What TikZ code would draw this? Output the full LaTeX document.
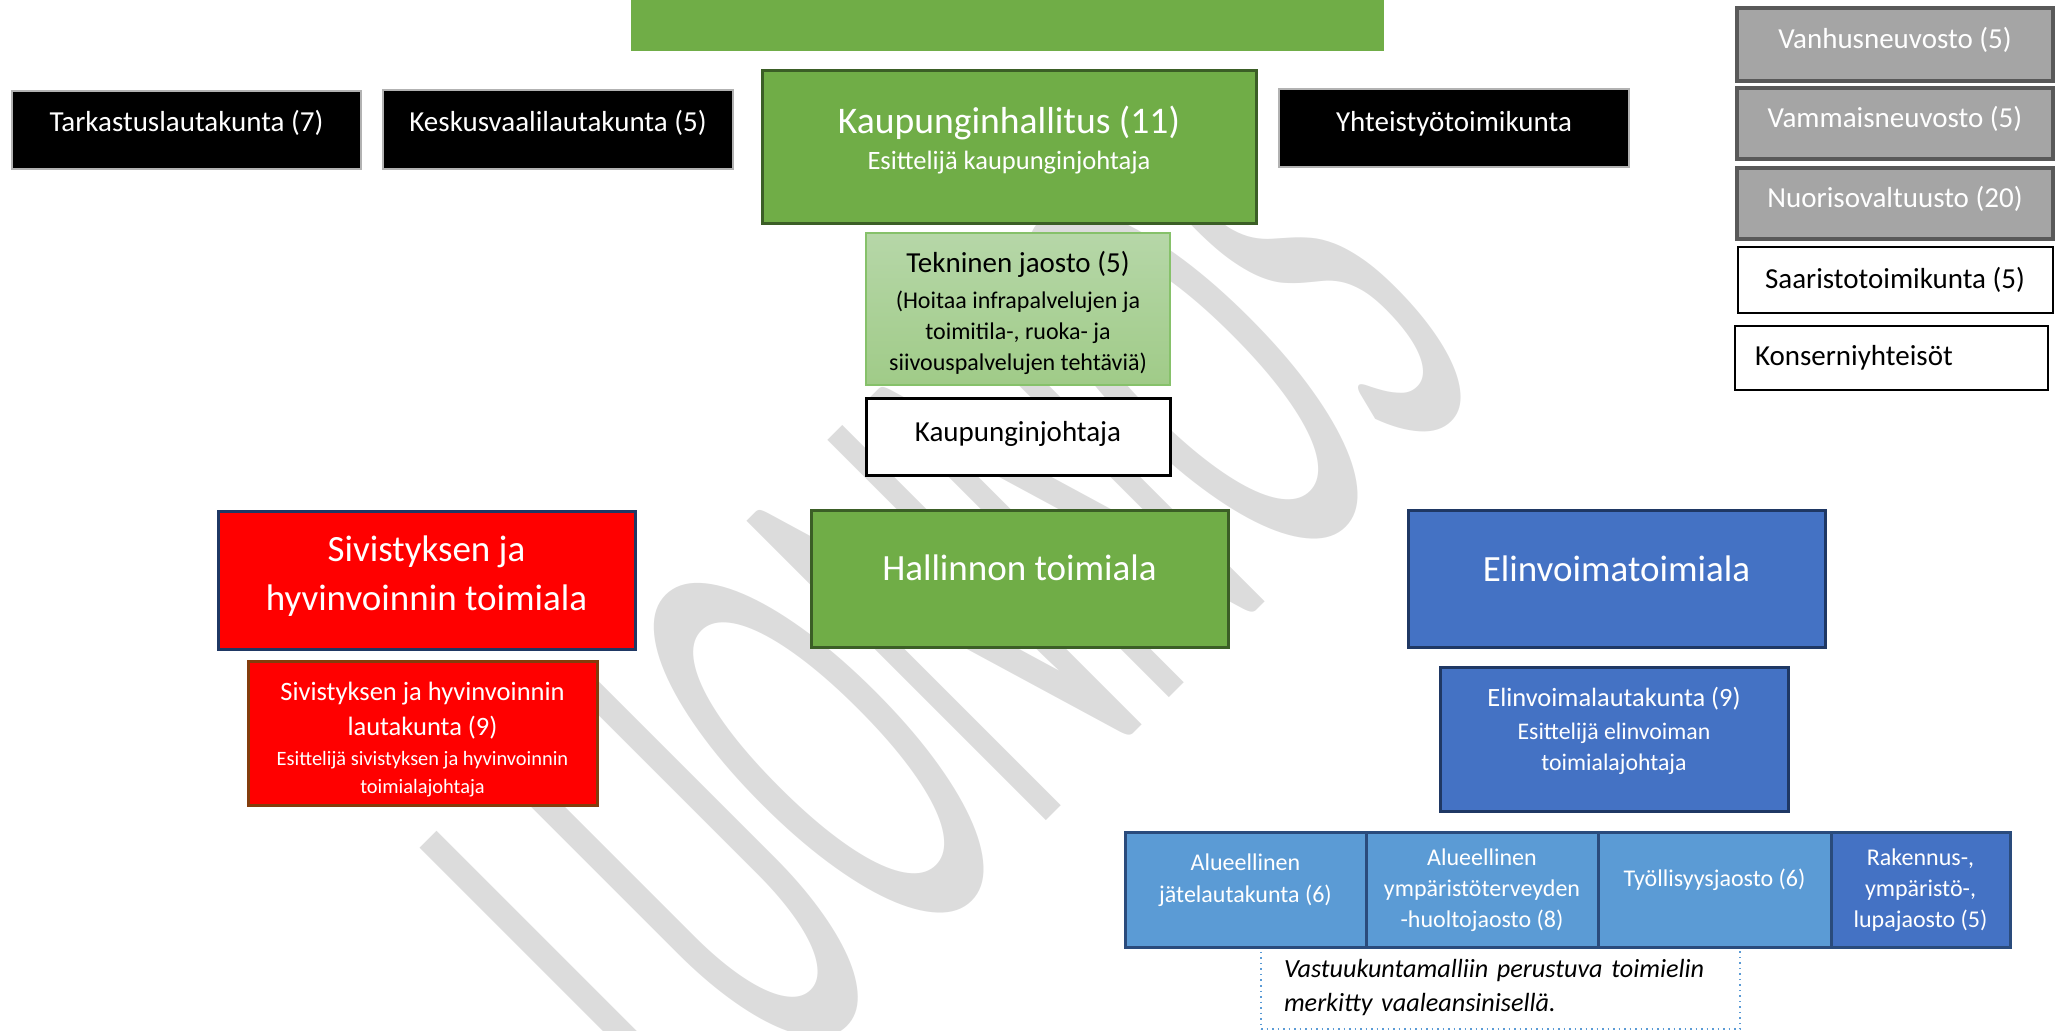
\documentclass[tikz,border=0pt]{standalone}
\usepackage{fontspec}
\setmainfont{Carlito}
\usetikzlibrary{positioning}

\definecolor{kgreen}{HTML}{70AD47}
\definecolor{kgreendark}{HTML}{3B5E26}
\definecolor{tektop}{HTML}{B6D7A8}
\definecolor{tekbottom}{HTML}{A0CB88}
\definecolor{tekline}{HTML}{86C16A}
\definecolor{ggray}{HTML}{A5A5A5}
\definecolor{ggrayline}{HTML}{595959}
\definecolor{navy}{HTML}{1F3864}
\definecolor{brownline}{HTML}{843C0C}
\definecolor{eblue}{HTML}{4472C4}
\definecolor{lblue}{HTML}{5B9BD5}
\definecolor{lbline}{HTML}{2A4B7C}
\definecolor{wmark}{HTML}{DCDCDC}

\newcommand{\liftby}[1]{\rule[-#1]{0pt}{#1}}
\newcommand{\dropby}[1]{\rule{0pt}{#1}}

\begin{document}
\begin{tikzpicture}[
  x=0.5pt, y=-0.5pt,
  box/.style={rectangle, inner sep=0pt, outer sep=0pt, align=center},
  blackbox/.style={box, fill=black, draw=gray!60, line width=0.75pt, text=white,
    minimum width=175pt, minimum height=39pt, font=\fontsize{14.5pt}{17pt}\selectfont},
  graybox/.style={box, fill=ggray, draw=ggrayline, line width=1.75pt, text=white,
    minimum width=158pt, font=\fontsize{14.5pt}{17pt}\selectfont},
  whitebox/.style={box, fill=white, draw=black, font=\fontsize{14.5pt}{17pt}\selectfont},
  greenbox/.style={box, fill=kgreen, draw=kgreendark, line width=1.5pt, text=white},
  toimiala/.style={box, minimum width=208.5pt, minimum height=68.5pt, line width=1.5pt,
    text=white, font=\fontsize{18.5pt}{24.75pt}\selectfont},
  jaosto/.style={box, fill=lblue, draw=lbline, line width=1.5pt, text=white,
    minimum height=57pt, font=\fontsize{12pt}{15.5pt}\selectfont}
]
  \useasboundingbox (0,0) rectangle (2058,1031);

  % watermark
  \node[text=wmark, rotate=45, anchor=base, inner sep=0pt] (luonnos) at (1100,767)
    {\scalebox{0.41}[1]{\fontsize{330pt}{330pt}\selectfont LUONNOS}};

  % top row
  \node[box, fill=kgreen, minimum width=376.5pt, minimum height=25.5pt] (topbar) at (1007.5,25.5) {};
  \node[blackbox, minimum width=174.5pt] (tarkastus) at (186.5,130) {Tarkastuslautakunta (7)\liftby{9pt}};
  \node[blackbox, minimum height=39.5pt] (keskusvaali) at (558,129.5) {Keskusvaalilautakunta (5)\liftby{9pt}};
  \node[greenbox, minimum width=247pt, minimum height=76.5pt,
    font=\fontsize{18.8pt}{18pt}\selectfont] (hallitus) at (1009,147.5)
    {Kaupunginhallitus (11)\\{\fontsize{13.25pt}{16pt}\selectfont Esittelijä kaupunginjohtaja\liftby{10pt}}};
  \node[blackbox] (yhteistyo) at (1454,128) {Yhteistyötoimikunta\liftby{7pt}};

  % right column
  \node[graybox, minimum height=36.5pt] (vanhus) at (1895,44.5) {Vanhusneuvosto (5)\liftby{7pt}};
  \node[graybox, minimum height=35.5pt, below=3.5pt of vanhus] (vammais) {Vammaisneuvosto (5)\liftby{7pt}};
  \node[graybox, minimum height=35.5pt, below=4.5pt of vammais] (nuoriso) {Nuorisovaltuusto (20)\liftby{7pt}};
  \node[whitebox, line width=1pt, minimum width=157.5pt, minimum height=33pt,
    below=4pt of nuoriso] (saaristo) {Saaristotoimikunta (5)};
  \node[whitebox, line width=1pt, minimum width=156.5pt, minimum height=32pt,
    text width=136.5pt, align=left] (konserni) at (1891.5,358) {Konserniyhteisöt};

  % under the board
  \node[box, minimum width=152pt, minimum height=76pt, top color=tektop, bottom color=tekbottom,
    draw=tekline, line width=0.75pt, font=\fontsize{12pt}{15.5pt}\selectfont] (tekninen) at (1018,309)
    {{\fontsize{14.5pt}{17pt}\selectfont\dropby{14.5pt}Tekninen jaosto (5)}\\[2.2pt]
     (Hoitaa infrapalvelujen ja\\ toimitila-, ruoka- ja\\ siivouspalvelujen tehtäviä)};
  \node[whitebox, line width=1.5pt, minimum width=152pt, minimum height=38.5pt,
    below=7pt of tekninen] (johtaja) {Kaupunginjohtaja\liftby{6.5pt}};

  % toimialat
  \node[toimiala, fill=red, draw=navy, minimum height=69pt] (sivistys) at (426.5,581)
    {Sivistyksen ja\\hyvinvoinnin toimiala\liftby{8pt}};
  \node[toimiala, fill=kgreen, draw=kgreendark] (hallinto) at (1019.5,579.5)
    {Hallinnon toimiala\liftby{11.5pt}};
  \node[toimiala, fill=eblue, draw=navy] (elinvoima) at (1616.5,579.5)
    {Elinvoimatoimiala\liftby{10.5pt}};

  % lautakunnat
  \node[box, fill=red, draw=brownline, line width=1.5pt, text=white, minimum width=174.5pt,
    minimum height=72pt, font=\fontsize{13.25pt}{17.5pt}\selectfont] (sivlauta) at (422.5,734)
    {\dropby{15pt}Sivistyksen ja hyvinvoinnin\\ lautakunta (9)\\[-2.5pt]
     {\fontsize{10.2pt}{14pt}\selectfont Esittelijä sivistyksen ja hyvinvoinnin}\\[-3.5pt]
     {\fontsize{10.2pt}{14pt}\selectfont toimialajohtaja}};
  \node[box, fill=eblue, draw=navy, line width=1.5pt, text=white, minimum width=174pt,
    minimum height=72pt, font=\fontsize{11.9pt}{15.5pt}\selectfont] (elilauta) at (1614,740)
    {{\fontsize{13.2pt}{16pt}\selectfont Elinvoimalautakunta (9)}\\[1.1pt]
     Esittelijä elinvoiman\\ toimialajohtaja\liftby{11.25pt}};

  % note
  \node[box, fill=white, draw=lblue, dotted, line width=0.75pt, minimum width=239.5pt,
    minimum height=41pt, text width=216.5pt, align=left,
    font=\itshape\fontsize{13.1pt}{17pt}\selectfont] (huom) at (1500.5,988)
    {Vastuukuntamalliin perustuva toimielin\\ merkitty vaaleansinisellä.};

  % jaostot
  \node[jaosto, minimum width=120.5pt] (jate) at (1245.5,890)
    {Alueellinen\\[0.5pt] jätelautakunta (6)\liftby{11.4pt}};
  \node[jaosto, minimum width=116pt, right=0pt of jate] (ymparisto)
    {Alueellinen\\ ympäristöterveyden\\ -huoltojaosto (8)};
  \node[jaosto, minimum width=116.5pt, right=0pt of ymparisto] (tyollisyys)
    {Työllisyysjaosto (6)\liftby{12.4pt}};
  \node[jaosto, fill=eblue, minimum width=89.5pt, right=0pt of tyollisyys] (rakennus)
    {Rakennus-,\\ ympäristö-,\\ lupajaosto (5)};
\end{tikzpicture}
\end{document}
